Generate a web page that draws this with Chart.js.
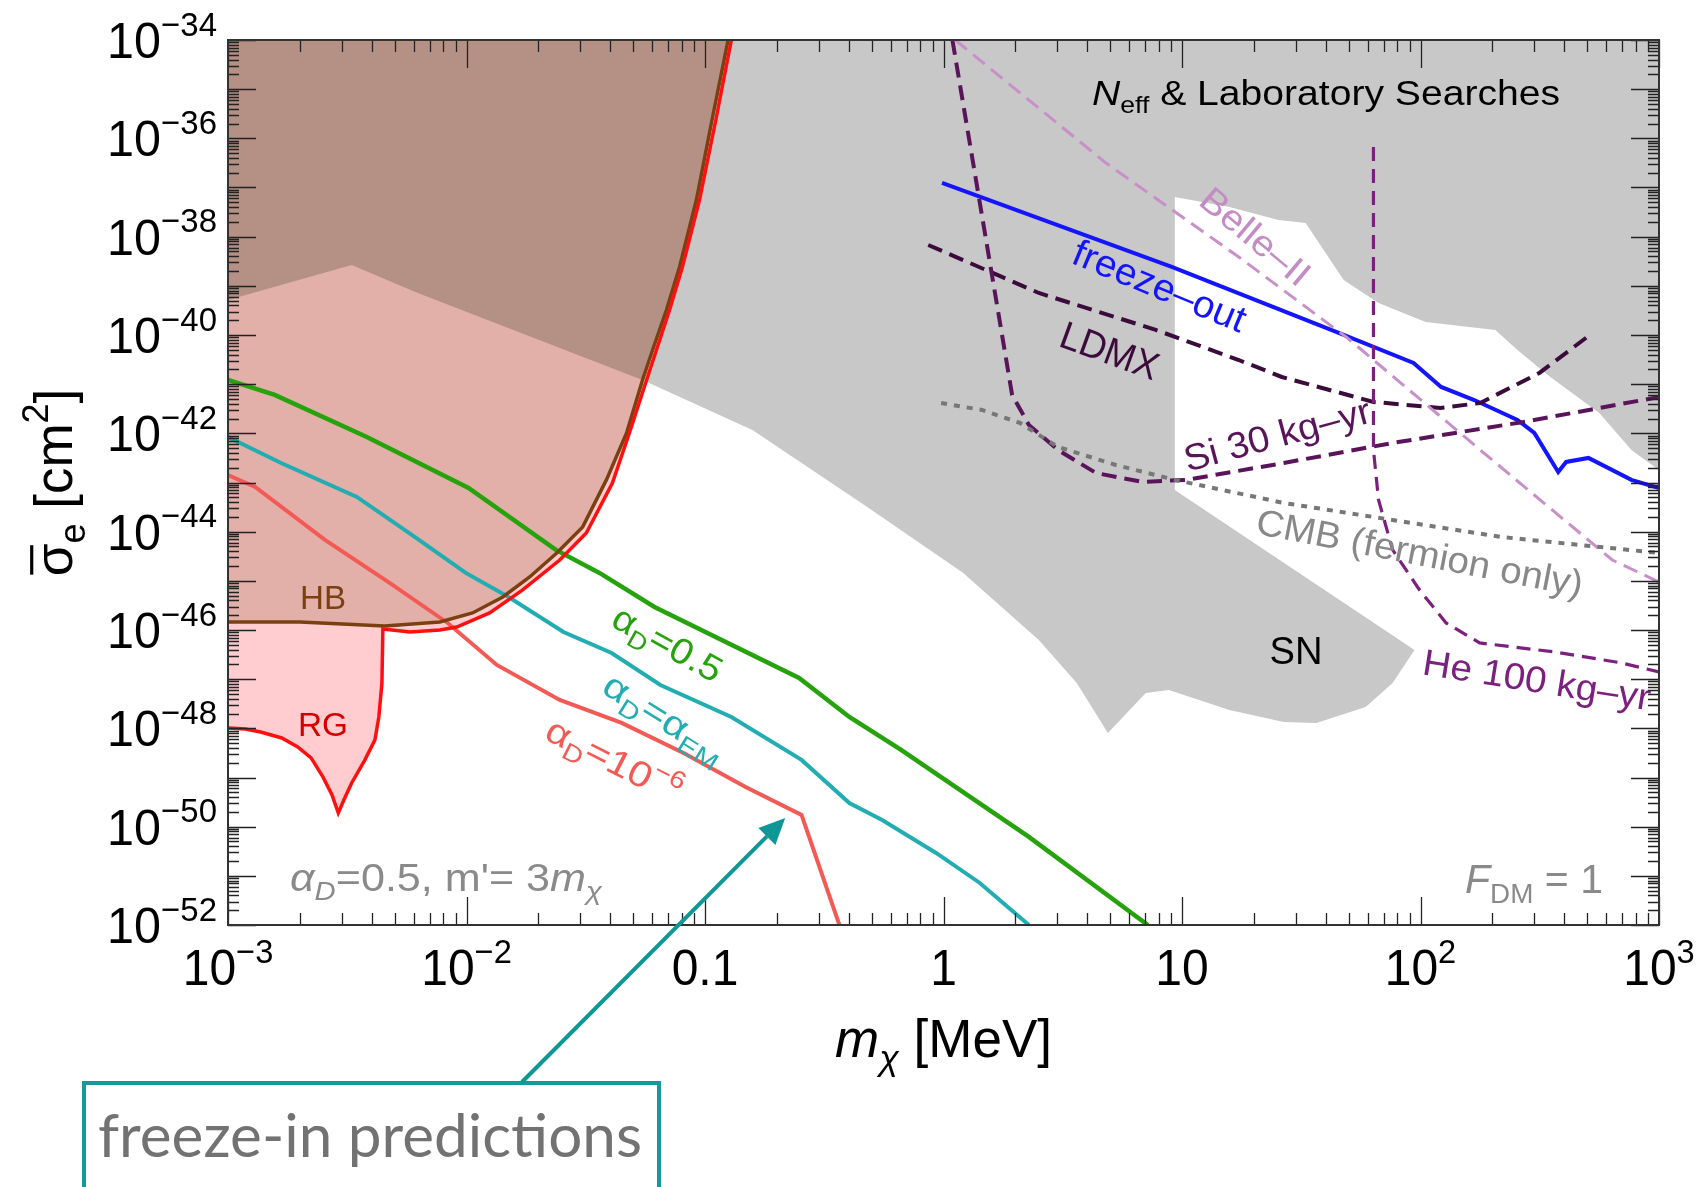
<!DOCTYPE html>
<html>
<head>
<meta charset="utf-8">
<script src="https://cdn.jsdelivr.net/npm/chart.js@4.4.0/dist/chart.umd.min.js"></script>
<style>
  html, body { margin: 0; padding: 0; background: #fff; }
</style>
</head>
<body>
<canvas id="myChart" width="1703" height="1187"></canvas>
<script>
// m_chi [MeV] (x) and sigma_e [cm^2] (y)

// freeze-in predictions
const greenX = [1e-3, 1.57e-3, 3.82e-3, 1.02e-2, 2.37e-2, 3.61e-2, 6.14e-2, 0.248, 0.403, 0.664, 2.28, 7.19];
const greenY = [1.22e-41, 6.03e-42, 8.43e-43, 7.74e-44, 4.25e-45, 1.45e-45, 2.94e-46, 1.06e-47, 1.70e-48, 3.63e-49, 6.18e-51, 1e-52];
const tealX = [1e-3, 1.67e-3, 3.47e-3, 5.90e-3, 9.93e-3, 1.50e-2, 2.55e-2, 4.06e-2, 6.50e-2, 0.129, 0.254, 0.403, 0.553, 0.931, 1.42, 2.28];
const tealY = [8.43e-43, 2.49e-43, 5.08e-44, 8.57e-45, 1.45e-45, 4.70e-46, 9.12e-47, 3.41e-47, 7.62e-48, 1.70e-48, 2.28e-49, 3.03e-50, 1.37e-50, 2.92e-51, 7.16e-52, 1e-52];
const salmonX = [1e-3, 1.30e-3, 2.55e-3, 4.76e-3, 8.34e-3, 1.34e-2, 2.46e-2, 4.47e-2, 8.13e-2, 0.148, 0.254, 0.366];
const salmonY = [1.42e-43, 8.11e-44, 6.78e-45, 9.06e-46, 1.39e-46, 1.95e-47, 3.78e-48, 1.29e-48, 3.16e-49, 6.43e-50, 1.73e-50, 1e-52];

// stellar bounds
const hbX = [1e-3, 2.00e-3, 4.54e-3, 7.73e-3, 1.06e-2, 1.42e-2, 1.84e-2, 2.39e-2, 3.07e-2, 3.86e-2, 4.69e-2, 5.47e-2, 6.03e-2, 6.89e-2, 7.82e-2, 9.20e-2, 0.107, 0.125];
const hbY = [1.46e-46, 1.46e-46, 1.21e-46, 1.46e-46, 2.22e-46, 4.70e-46, 1.20e-45, 3.69e-45, 1.25e-44, 1.13e-43, 1.02e-42, 1.22e-41, 4.95e-41, 3.23e-40, 2.42e-39, 5.57e-38, 2.36e-36, 1e-34];
const rgX = [1e-3, 1.18e-3, 1.37e-3, 1.68e-3, 1.96e-3, 2.23e-3, 2.50e-3, 2.73e-3, 2.90e-3, 3.06e-3, 3.30e-3, 3.75e-3, 4.13e-3, 4.29e-3, 4.42e-3, 4.46e-3, 5.78e-3, 7.73e-3, 9.10e-3, 1.25e-2, 1.72e-2, 2.46e-2, 3.18e-2, 4.09e-2, 4.82e-2, 5.69e-2, 7.10e-2, 8.04e-2, 9.48e-2, 0.111, 0.129];
const rgY = [1.02e-48, 9.70e-49, 8.43e-49, 6.37e-49, 4.18e-49, 2.50e-49, 1.03e-49, 4.42e-50, 1.90e-50, 3.49e-50, 7.74e-50, 2.28e-49, 5.81e-49, 1.70e-48, 8.38e-48, 1.05e-46, 9.12e-47, 1.00e-46, 1.15e-46, 2.22e-46, 6.52e-46, 2.65e-45, 9.42e-45, 9.77e-44, 1.02e-42, 1.22e-41, 3.23e-40, 2.42e-39, 5.57e-38, 2.36e-36, 1e-34];
// part of the HB region lying over the grey region
const hbGrayX = [1e-3, 3.30e-3, 6.25e-3, 5.47e-2, 6.03e-2, 6.89e-2, 7.82e-2, 9.20e-2, 0.107, 0.125];
const hbGrayY = [5.15e-40, 2.65e-39, 7.16e-40, 1.22e-41, 4.95e-41, 3.23e-40, 2.42e-39, 5.57e-38, 2.36e-36, 1e-34];

// N_eff & laboratory + SN excluded region (closed outline)
const grayX = [1e-3, 1e-3, 3.30e-3, 6.25e-3, 5.47e-2, 0.158, 0.479, 1.21, 2.51, 3.62, 4.89, 5.87, 7.05, 8.81, 15.8, 26.7, 36.6, 58.9, 76.4, 94.4, 9.33, 9.33, 15.8, 25.4, 33.0, 38.5, 47.6, 66.7, 105, 206, 255, 350, 562, 766, 1000, 1000];
const grayY = [1e-34, 5.15e-40, 2.65e-39, 7.16e-40, 1.22e-41, 1.17e-42, 3.18e-44, 1.45e-45, 6.27e-47, 8.38e-48, 8.05e-49, 2.06e-48, 5.24e-48, 6.03e-48, 2.37e-48, 1.35e-48, 1.29e-48, 2.72e-48, 8.38e-48, 3.93e-47, 7.05e-44, 6.41e-38, 4.02e-38, 2.18e-38, 1.90e-38, 6.17e-39, 1.32e-39, 4.48e-40, 1.84e-40, 1.27e-40, 4.95e-41, 1.40e-41, 2.59e-42, 4.59e-43, 1.80e-43, 1e-34];

// projections
const blueX = [0.986, 9.06, 45.4, 93.5, 122, 168, 255, 300, 378, 408, 506, 766, 1000];
const blueY = [1.24e-37, 2.42e-39, 1.10e-40, 2.70e-41, 8.77e-42, 4.76e-42, 1.87e-42, 1.02e-42, 1.64e-43, 2.62e-43, 3.16e-43, 1.13e-43, 7.74e-44];
const ldmxX = [0.863, 2.51, 7.76, 17.3, 26.2, 63.5, 121, 178, 315, 500];
const ldmxY = [6.78e-39, 7.16e-40, 1.27e-40, 3.10e-41, 1.40e-41, 4.35e-42, 3.28e-42, 4.14e-42, 1.69e-41, 9.12e-41];
const siX = [1.09, 1.94, 2.28, 3.02, 4.36, 6.79, 10.4, 26.7, 76.4, 270, 1000];
const siY = [1e-34, 6.03e-42, 1.48e-42, 4.59e-43, 1.56e-43, 1.03e-43, 1.13e-43, 2.49e-43, 6.37e-43, 1.70e-42, 5.48e-42];
const heX = [63.5, 63.5, 66.7, 76.4, 99.1, 128, 177, 367, 695, 1000];
const heY = [6.67e-37, 4.59e-43, 4.42e-44, 4.25e-45, 6.52e-46, 1.39e-46, 5.45e-47, 3.57e-47, 2.14e-47, 1.40e-47];
const belleX = [1.12, 4.80, 17.3, 49.4, 178, 637, 1000];
const belleY = [1e-34, 3.15e-37, 3.86e-39, 8.69e-41, 4.59e-43, 2.65e-45, 9.48e-46];
const cmbX = [0.977, 1.45, 2.09, 3.02, 5.28, 9.33, 26.7, 76.4, 218, 1000];
const cmbY = [4.14e-42, 2.99e-42, 1.63e-42, 5.28e-43, 2.27e-43, 1.13e-43, 3.84e-44, 1.73e-44, 7.80e-45, 3.69e-45];

// tick labels
const xTickVals = [1e-3, 1e-2, 0.1, 1, 10, 100, 1000];
const xTickText = [['10', '−3'], ['10', '−2'], ['0.1'], ['1'], ['10'], ['10', '2'], ['10', '3']];
const yTickExp = [-34, -36, -38, -40, -42, -44, -46, -48, -50, -52];

const FONT = '"Liberation Sans", Arial, Helvetica, sans-serif';

function pts(xs, ys) {
    return xs.map((x, i) => ({ x: x, y: ys[i] }));
}

function region(xs, ys, color, fill, order) {
    return {
        data: pts(xs, ys), fill: fill, backgroundColor: color,
        borderColor: 'rgba(0,0,0,0)', borderWidth: 0, order: order
    };
}

function curve(xs, ys, color, width, dash) {
    return {
        data: pts(xs, ys), borderColor: color, borderWidth: width,
        borderDash: dash || [], fill: false, order: 1
    };
}

function segFont(s, size) {
    let sz = (s.sub || s.sup) ? size * 0.68 : size;
    return (s.it ? 'italic ' : '') + sz.toFixed(1) + 'px ' + (s.family || FONT);
}

// text made of pieces (italic / sub / sup), optionally squeezed to a width
function rich(ctx, segs, o) {
    let size = o.size;
    let nat = 0;
    segs.forEach(s => { ctx.font = segFont(s, size); nat += ctx.measureText(s.t).width; });
    let hs = o.width ? o.width / nat : (o.hs || 1);
    let w = nat * hs;
    ctx.save();
    ctx.translate(o.x, o.y);
    if (o.angle) ctx.rotate(o.angle * Math.PI / 180);
    let cx = o.align === 'center' ? -w / 2 : (o.align === 'right' ? -w : 0);
    let by = o.mid ? size * 0.36 : 0;
    ctx.fillStyle = o.color || '#000';
    ctx.strokeStyle = o.color || '#000';
    ctx.textAlign = 'left';
    ctx.textBaseline = 'alphabetic';
    segs.forEach(s => {
        ctx.font = segFont(s, size);
        let sw = ctx.measureText(s.t).width;
        let dy = s.sub ? size * 0.24 : (s.sup ? -size * 0.45 : 0);
        ctx.save();
        ctx.translate(cx, by + dy);
        ctx.scale(hs, 1);
        ctx.fillText(s.t, 0, 0);
        if (s.bar) {
            ctx.lineWidth = size * 0.06;
            ctx.beginPath();
            ctx.moveTo(sw * 0.05, -size * 0.76);
            ctx.lineTo(sw * 0.95, -size * 0.76);
            ctx.stroke();
        }
        ctx.restore();
        cx += sw * hs;
    });
    ctx.restore();
}

const frame = {
    id: 'frame',
    afterDatasetsDraw(chart) {
        const { ctx, chartArea: a, scales: { x, y } } = chart;

        // labels inside the plot
        rich(ctx, [{ t: 'N', it: true }, { t: 'eff', sub: true }, { t: ' & Laboratory Searches' }],
            { x: 1092, y: 105, size: 35, width: 468 });
        rich(ctx, [{ t: 'freeze–out' }], { x: 1160, y: 285, size: 38, width: 184, angle: 22.5, align: 'center', mid: true, color: '#1414ff' });
        rich(ctx, [{ t: 'Belle–II' }], { x: 1256, y: 236, size: 36, width: 132, angle: 40, align: 'center', mid: true, color: '#c48cc4' });
        rich(ctx, [{ t: 'LDMX' }], { x: 1110, y: 350, size: 39, width: 102, angle: 20, align: 'center', mid: true, color: '#3b0b3b' });
        rich(ctx, [{ t: 'Si 30 kg–yr' }], { x: 1277, y: 434, size: 37, width: 192, angle: -15, align: 'center', mid: true, color: '#5a145a' });
        rich(ctx, [{ t: 'CMB (fermion only)' }], { x: 1420, y: 552, size: 37, width: 332, angle: 11, align: 'center', mid: true, color: '#888888' });
        rich(ctx, [{ t: 'He 100 kg–yr' }], { x: 1537, y: 679, size: 37, width: 230, angle: 9, align: 'center', mid: true, color: '#7c2080' });
        rich(ctx, [{ t: 'SN' }], { x: 1296, y: 650, size: 38, width: 53, align: 'center', mid: true });
        rich(ctx, [{ t: 'HB' }], { x: 323, y: 597, size: 33, width: 46, align: 'center', mid: true, color: '#7b4011' });
        rich(ctx, [{ t: 'RG' }], { x: 323, y: 724, size: 33, width: 50, align: 'center', mid: true, color: '#d40000' });
        rich(ctx, [{ t: 'α' }, { t: 'D', sub: true }, { t: '=0.5' }],
            { x: 668, y: 643, size: 36, width: 120, angle: 29, align: 'center', mid: true, color: '#26a30c' });
        rich(ctx, [{ t: 'α' }, { t: 'D', sub: true }, { t: '=α' }, { t: 'EM', sub: true }],
            { x: 665, y: 717, size: 36, width: 137, angle: 32, align: 'center', mid: true, color: '#22adb2' });
        rich(ctx, [{ t: 'α' }, { t: 'D', sub: true }, { t: '=10' }, { t: '−6', sup: true }],
            { x: 614, y: 760, size: 36, width: 147, angle: 27, align: 'center', mid: true, color: '#f45a55' });
        rich(ctx, [{ t: 'α', it: true }, { t: 'D', it: true, sub: true }, { t: '=0.5, m\'= 3' }, { t: 'm', it: true }, { t: 'χ', it: true, sub: true }],
            { x: 290, y: 891, size: 38, width: 312, color: '#8a8a8a' });
        rich(ctx, [{ t: 'F', it: true }, { t: 'DM', sub: true }, { t: ' = 1' }],
            { x: 1465, y: 893, size: 40, width: 138, color: '#8a8a8a' });

        // frame ticks, pointing inwards on all four sides
        ctx.save();
        ctx.strokeStyle = '#222';
        ctx.lineWidth = 1.3;
        ctx.beginPath();
        for (let d = -3; d <= 3; d++) {
            for (let k = 1; k <= 9; k++) {
                if (d === 3 && k > 1) break;
                let px = Math.round(x.getPixelForValue(k * Math.pow(10, d))) + 0.5;
                let len = k === 1 ? 28 : 12;
                ctx.moveTo(px, a.bottom); ctx.lineTo(px, a.bottom - len);
                ctx.moveTo(px, a.top); ctx.lineTo(px, a.top + len);
            }
        }
        for (let d = -52; d <= -34; d++) {
            for (let k = 1; k <= 9; k++) {
                if (d === -34 && k > 1) break;
                let py = Math.round(y.getPixelForValue(k * Math.pow(10, d))) + 0.5;
                let len = k === 1 ? 28 : 11;
                ctx.moveTo(a.left, py); ctx.lineTo(a.left + len, py);
                ctx.moveTo(a.right, py); ctx.lineTo(a.right - len, py);
            }
        }
        ctx.stroke();
        ctx.lineWidth = 2;
        ctx.strokeStyle = '#333';
        ctx.strokeRect(a.left, a.top, a.right - a.left, a.bottom - a.top);
        ctx.restore();
    },
    afterDraw(chart) {
        const { ctx, chartArea: a, scales: { x, y } } = chart;

        // tick labels
        xTickVals.forEach((v, i) => {
            let t = xTickText[i];
            let segs = [{ t: t[0] }];
            if (t[1]) segs.push({ t: t[1], sup: true });
            rich(ctx, segs, { x: x.getPixelForValue(v), y: a.bottom + 60, size: 50, hs: 0.96, align: 'center' });
        });
        yTickExp.forEach(e => {
            rich(ctx, [{ t: '10' }, { t: '−' + Math.abs(e), sup: true }],
                { x: a.left - 11, y: y.getPixelForValue(Math.pow(10, e)) + 18, size: 50, hs: 0.97, align: 'right' });
        });

        // axis titles
        rich(ctx, [{ t: 'm', it: true }, { t: 'χ', it: true, sub: true }, { t: ' [MeV]' }],
            { x: (a.left + a.right) / 2, y: 1057, size: 53, align: 'center' });
        rich(ctx, [{ t: 'σ', bar: true }, { t: 'e', sub: true }, { t: ' [cm' }, { t: '2', sup: true }, { t: ']' }],
            { x: 72, y: (a.top + a.bottom) / 2, size: 53, angle: -90, align: 'center' });

        // call-out box and arrow
        ctx.save();
        ctx.strokeStyle = '#16999c';
        ctx.lineWidth = 4;
        ctx.strokeRect(84, 1083, 575, 130);
        rich(ctx, [{ t: 'freeze-in predictions', family: 'Lato, "Open Sans", sans-serif' }],
            { x: 98, y: 1157, size: 60, width: 544, color: '#727272' });

        let tx = x.getPixelForValue(0.217), ty = y.getPixelForValue(1.5e-50);
        let sx = 522, sy = 1082;
        let ang = Math.atan2(ty - sy, tx - sx);
        let head = 26, half = 12;
        let bx = tx - head * Math.cos(ang), by = ty - head * Math.sin(ang);
        ctx.strokeStyle = '#0f9696';
        ctx.fillStyle = '#0f9696';
        ctx.lineWidth = 4;
        ctx.beginPath();
        ctx.moveTo(sx, sy);
        ctx.lineTo(bx, by);
        ctx.stroke();
        ctx.beginPath();
        ctx.moveTo(tx, ty);
        ctx.lineTo(bx + half * Math.sin(ang), by - half * Math.cos(ang));
        ctx.lineTo(bx - half * Math.sin(ang), by + half * Math.cos(ang));
        ctx.closePath();
        ctx.fill();
        ctx.restore();
    }
};

let ctx = document.getElementById('myChart').getContext('2d');

let myChart = new Chart(ctx, {
    type: 'line',
    data: {
        datasets: [
            region(grayX, grayY, '#c8c8c8', 'shape', 100),
            region(rgX, rgY, '#ffcdd0', 'end', 90),
            region(hbX, hbY, '#e2b0a8', 'end', 80),
            region(hbGrayX, hbGrayY, '#b49184', 'end', 70),
            curve(cmbX, cmbY, '#777777', 4, [6, 7]),
            curve(belleX, belleY, '#c890c8', 3, [15, 8]),
            curve(heX, heY, '#7c2080', 3.2, [14, 8]),
            curve(siX, siY, '#5a145a', 4, [15, 8]),
            curve(ldmxX, ldmxY, '#3b0b3b', 4, [15, 8]),
            curve(blueX, blueY, '#1414ff', 4),
            curve(rgX, rgY, '#ff1010', 3.5),
            curve(hbX, hbY, '#7b4011', 3.5),
            curve(salmonX, salmonY, '#f45a55', 4),
            curve(tealX, tealY, '#22adb2', 4),
            curve(greenX, greenY, '#26a30c', 4.5)
        ]
    },
    options: {
        responsive: false,
        animation: false,
        layout: { padding: { top: 40, right: 44, left: 0, bottom: 0 } },
        elements: { point: { radius: 0 }, line: { tension: 0 } },
        plugins: { legend: { display: false }, tooltip: { enabled: false } },
        scales: {
            x: {
                type: 'logarithmic', min: 1e-3, max: 1e3,
                ticks: { display: false }, grid: { display: false }, border: { display: false },
                afterFit(s) { s.height = 262; }
            },
            y: {
                type: 'logarithmic', min: 1e-52, max: 1e-34,
                ticks: { display: false }, grid: { display: false }, border: { display: false },
                afterFit(s) { s.width = 228; }
            }
        }
    },
    plugins: [frame]
});
</script>
</body>
</html>
